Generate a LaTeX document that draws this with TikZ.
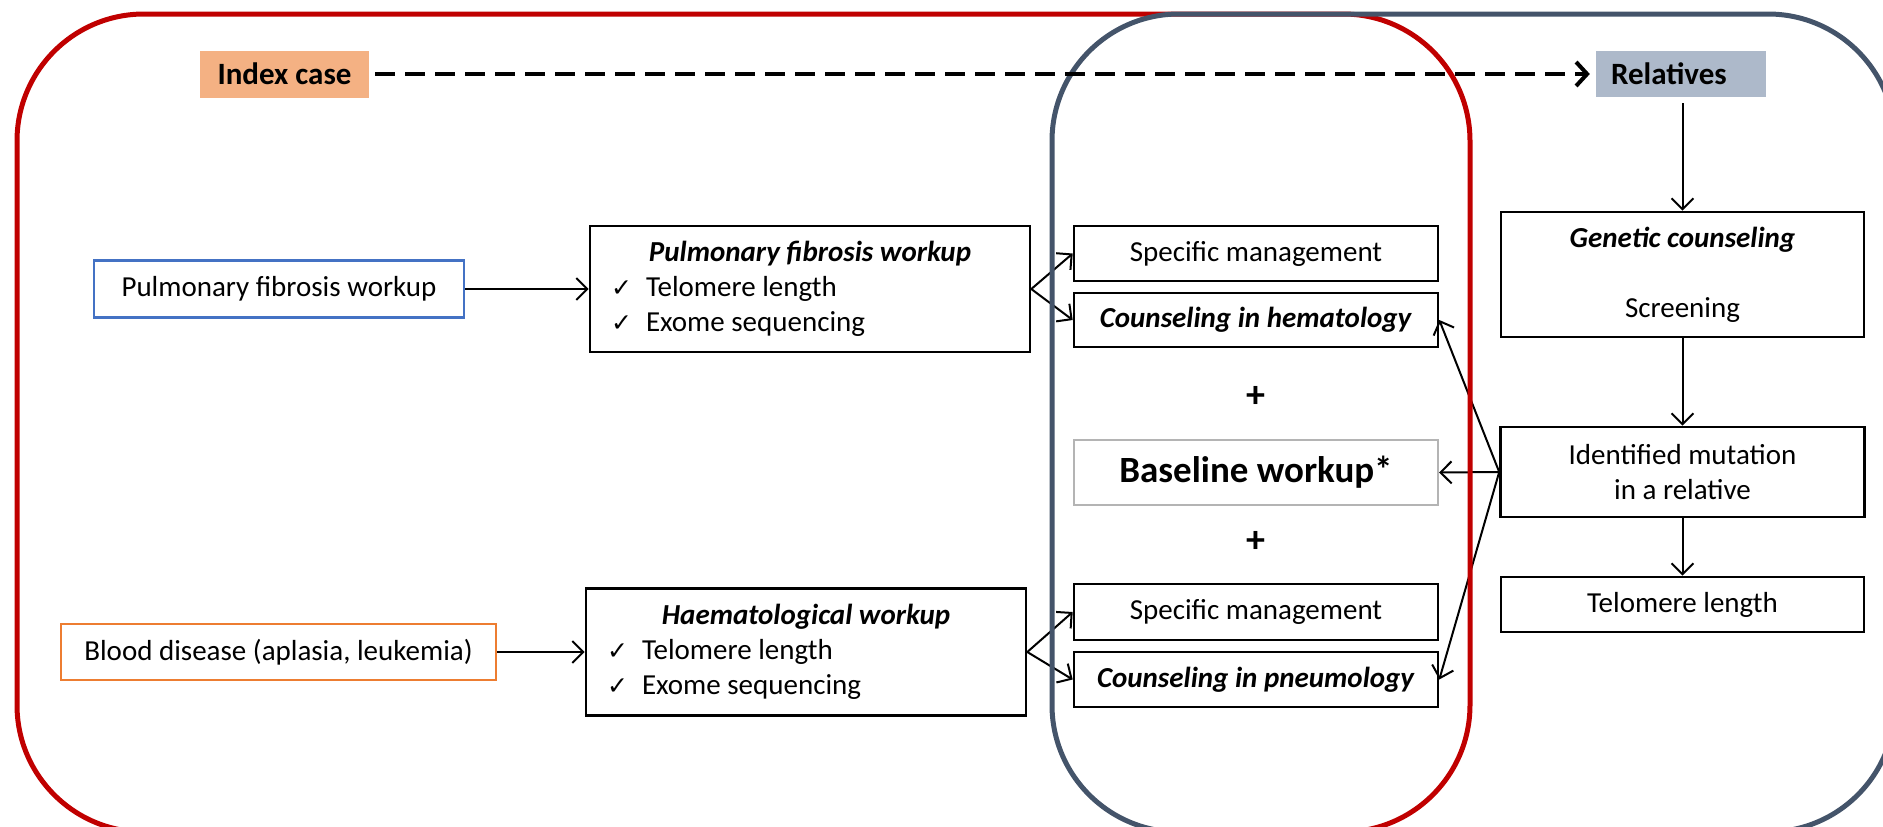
\documentclass[tikz,border=0pt]{standalone}
\usepackage{fontspec}
\setmainfont{Carlito}
\newfontfamily\dejavu{DejaVu Sans}
\usetikzlibrary{arrows.meta}
\definecolor{cred}{HTML}{C00000}
\definecolor{cslate}{HTML}{44546A}
\definecolor{cindex}{HTML}{F4B183}
\definecolor{crel}{HTML}{ADB9CA}
\definecolor{cblue}{HTML}{4472C4}
\definecolor{corange}{HTML}{ED7D31}
\definecolor{cgrey}{HTML}{B4B4B4}
\newcommand{\chk}{{\dejavu\fontsize{25}{29}\selectfont ✓}}
\newcommand{\chkitem}[1]{\hspace*{21pt}\makebox[35pt][l]{\chk}#1\par}
\tikzset{
  wbox/.style={draw=black, line width=2.6pt, fill=white, inner sep=0pt, align=center},
  arr/.style={draw, line width=2pt, -{Straight Barb[length=11pt, width=22pt]}},
  tagbox/.style={inner sep=0pt, font=\fontsize{31}{37}\selectfont\bfseries},
  region/.style={line width=5pt, rounded corners=127pt},
}
\begin{document}
\begin{tikzpicture}[x=1pt, y=-1pt, font=\fontsize{29}{35}\selectfont]
\useasboundingbox (0,0) rectangle (1883,827);
\clip (0,0) rectangle (1883,827);

% top labels
\node[tagbox, fill=cindex, minimum width=169pt, minimum height=47pt] (idx) at (284.5,74) {Index case};
\node[tagbox, fill=crel, minimum width=170pt, minimum height=46pt, text width=140pt, align=left] (rel) at (1681,74) {Relatives};

% left column
\node[wbox, draw=cblue, minimum width=370pt, minimum height=57pt] (pfl) at (279,289) {Pulmonary fibrosis workup};
\node[wbox, draw=corange, minimum width=435pt, minimum height=56pt] (bld) at (278.5,652) {Blood disease (aplasia, leukemia)};

% workup boxes
\node[wbox, minimum width=440pt, minimum height=126pt] (pfw) at (810,289) {%
  \begin{minipage}{440pt}\centering\textbf{\textit{Pulmonary fibrosis workup}}\par\raggedright
  \chkitem{Telomere length}\chkitem{Exome sequencing}\end{minipage}};
\node[wbox, minimum width=440pt, minimum height=127pt] (hw) at (806,652) {%
  \begin{minipage}{440pt}\centering\textbf{\textit{Haematological workup}}\par\raggedright
  \chkitem{Telomere length}\chkitem{Exome sequencing}\end{minipage}};

% middle column
\node[wbox, minimum width=364pt, minimum height=55pt] (sm1) at (1256,253.5) {Specific management};
\node[wbox, minimum width=364pt, minimum height=54pt] (hem) at (1256,320) {\textbf{\textit{Counseling in hematology}}};
\node[font=\fontsize{38}{40}\selectfont\bfseries] (plus1) at (1256,397) {+};
\node[wbox, draw=cgrey, line width=2.2pt, minimum width=364pt, minimum height=65pt, font=\fontsize{37}{42}\selectfont\bfseries] (base) at (1256,472.5) {Baseline workup*};
\node[font=\fontsize{38}{40}\selectfont\bfseries] (plus2) at (1256,542) {+};
\node[wbox, minimum width=364pt, minimum height=56pt] (sm2) at (1256,612) {Specific management};
\node[wbox, minimum width=364pt, minimum height=55pt] (pne) at (1256,679.5) {\textbf{\textit{Counseling in pneumology}}};

% right column
\node[wbox, minimum width=363pt, minimum height=125pt] (gc) at (1682.5,274.5) {\textbf{\textit{Genetic counseling}}\\ \mbox{}\\ Screening};
\node[wbox, minimum width=364pt, minimum height=90pt] (idm) at (1682.5,472) {Identified mutation\\ in a relative};
\node[wbox, minimum width=363pt, minimum height=55pt] (tlr) at (1682.5,604.5) {Telomere length};

% connectors
\draw[arr] (pfl.east) -- (pfw.west);
\draw[arr] (bld.east) -- (hw.west);
\draw[arr] (pfw.east) -- (sm1.west);
\draw[arr] (pfw.east) -- (hem.west);
\draw[arr] (hw.east) -- (sm2.west);
\draw[arr] (hw.east) -- (pne.west);
\draw[arr, shorten <=6pt] (rel.south -| gc.north) -- (gc.north);
\draw[arr] (gc.south) -- (idm.north);
\draw[arr] (idm.south) -- (tlr.north);
\draw[arr] (idm.west) -- (hem.east);
\draw[arr] (idm.west) -- (base.east);
\draw[arr] (idm.west) -- (pne.east);

% regions
\draw[region, draw=cred] (17,14) rectangle (1470,832);
\draw[region, draw=cslate] (1052,14) rectangle (1895,832);

% dashed link
\draw[line width=4pt, dash pattern=on 20pt off 10pt, shorten <=6pt, shorten >=6pt,
      -{Straight Barb[length=11pt, width=24pt, line width=4pt]}] (idx.east) -- (rel.west);
\end{tikzpicture}
\end{document}
